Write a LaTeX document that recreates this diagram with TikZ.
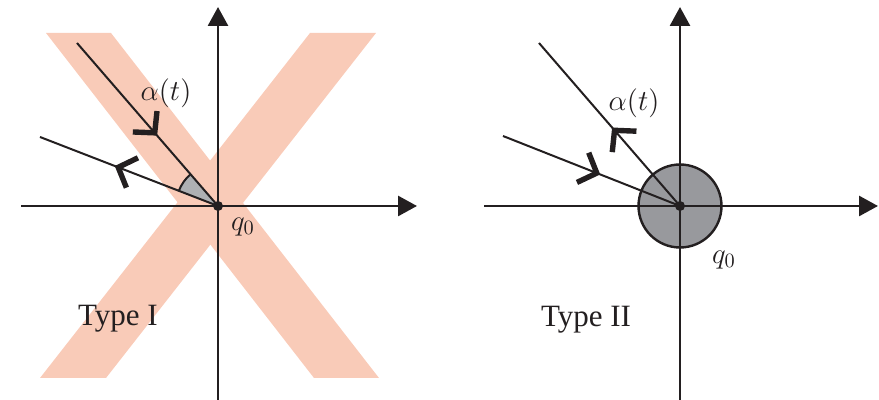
\documentclass[tikz,border=0pt]{standalone}
\usepackage{fix-cm}
\usepackage{fontspec}
\setmainfont{Liberation Serif}
\usepackage{xcolor}
\usetikzlibrary{arrows.meta, decorations.markings}

\definecolor{ink}{HTML}{231F20}
\definecolor{bandpink}{HTML}{F9CBB8}
\definecolor{wedgegray}{HTML}{AEB0B3}
\definecolor{discgray}{HTML}{98999D}

\begin{document}
\begin{tikzpicture}[
    x=0.5pt, y=0.5pt,
    axis/.style={color=ink, draw, line width=1.4pt, -{Triangle[length=9.5pt, width=10pt]}},
    ray/.style={color=ink, draw, line width=1pt},
    chev/.tip={Straight Barb[length=7.5pt, width=16pt, line width=2.7pt]},
    % chevron on the ray, pointing along it or back
    toward/.style={postaction={decorate}, decoration={markings, mark=at position #1 with {\arrow{chev}}}},
    away/.style={postaction={decorate}, decoration={markings, mark=at position #1 with {\arrowreversed{chev}}}},
    origin/.style={circle, fill=ink, inner sep=0pt, minimum size=5pt},
    lbl/.style={text=ink, font=\fontsize{14.5}{17}\selectfont},
    tag/.style={text=ink, font=\fontsize{15.5}{18}\selectfont}
]
\useasboundingbox (0,0) rectangle (879,400);

% --- Type I ---
\coordinate (OL) at (218,194);
\coordinate (xL0) at (21,194);
\coordinate (xL1) at (417,194);
\coordinate (yL0) at (218,0);
\coordinate (yL1) at (218,393);
\coordinate (La) at (77,357);
\coordinate (Lb) at (40,263);

% the X band
\fill[bandpink] (46,367) -- (111,367) -- (379,22) -- (314,22) -- cycle;
\fill[bandpink] (310,367) -- (376,367) -- (106,22) -- (40,22) -- cycle;

\fill[wedgegray] (OL) -- ++(131:21pt) arc[start angle=131, end angle=159, radius=21pt] -- cycle;

\draw[axis] (xL0) -- (xL1);
\draw[axis] (yL0) -- (yL1);
\node[origin] (dotL) at (OL) {};

\draw[ray, toward=0.57] (La) -- (dotL.center);
\draw[ray, away=0.42] (Lb) -- (dotL.center);
\draw[ray] (OL) ++(131:21pt) arc[start angle=131, end angle=159, radius=21pt];

\node[lbl] (alphaL) at (166,307) {$\alpha(t)$};
\node[lbl] (q0L) at (243,173) {$q_0$};
\node[tag] (typeI) at (118,81) {Type I};

% --- Type II ---
\coordinate (OR) at (680,194);
\coordinate (xR0) at (484,194);
\coordinate (xR1) at (878,194);
\coordinate (yR0) at (680,0);
\coordinate (yR1) at (680,393);
\coordinate (Ra) at (539,357);
\coordinate (Rb) at (503,264);

\node[circle, draw=ink, line width=1.2pt, fill=discgray, inner sep=0pt, minimum size=41.5pt] (discR) at (OR) {};

\draw[axis] (xR0) -- (xR1);
\draw[axis] (yR0) -- (yR1);
\node[origin] (dotR) at (OR) {};

\draw[ray, away=0.52] (Ra) -- (dotR.center);
\draw[ray, toward=0.55] (Rb) -- (dotR.center);

\node[lbl] (alphaR) at (634,297) {$\alpha(t)$};
\node[lbl] (q0R) at (724,140) {$q_0$};
\node[tag] (typeII) at (586,80) {Type II};

\end{tikzpicture}
\end{document}
